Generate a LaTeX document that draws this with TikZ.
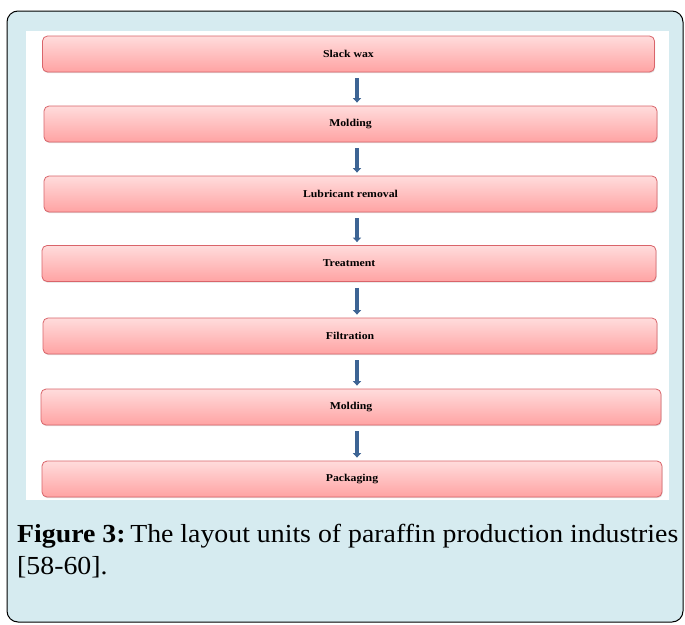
\documentclass[tikz,border=0pt]{standalone}
\usepackage{fontspec}
\setmainfont{Liberation Serif}
\usetikzlibrary{arrows.meta,shadows}
\definecolor{panelblue}{HTML}{D6EBF0}
\definecolor{boxtop}{HTML}{FFDCDC}
\definecolor{boxbot}{HTML}{FFA3A3}
\definecolor{boxline}{HTML}{D9646A}
\definecolor{arrowblue}{HTML}{3D6494}
\newcommand{\stagetext}[1]{\scalebox{1.12}[1]{#1}}
\tikzset{
  stage/.style={draw=boxline, line width=0.8pt, rounded corners=5pt,
    top color=boxtop, bottom color=boxbot, minimum height=36pt,
    inner sep=0pt, font=\fontsize{10.5}{12}\selectfont\bfseries,
    drop shadow={shadow xshift=0.6pt, shadow yshift=-1.2pt, opacity=0.25}},
  flow/.style={draw=arrowblue, line width=3.6pt,
    -{Triangle[width=8pt,length=4.5pt]}},
  caption/.style={anchor=base west, inner sep=0pt, font=\fontsize{26}{30}\selectfont},
}
\begin{document}
\begin{tikzpicture}[x=1pt,y=-1pt]
\useasboundingbox (0,0) rectangle (685,624);
% outer frame and white drawing area
\draw[fill=panelblue, line width=1pt, rounded corners=11pt] (7,11) rectangle (683,622);
\fill[white] (26,31) rectangle (669,500);
% process stages
\node[stage, minimum width=612pt] (s1) at (348.5,54)  {\stagetext{Slack wax}};
\node[stage, minimum width=613pt] (s2) at (350.5,124) {\stagetext{Molding}};
\node[stage, minimum width=613pt] (s3) at (350.5,194) {\stagetext{Lubricant removal}};
\node[stage, minimum width=614pt] (s4) at (349,263.5) {\stagetext{Treatment}};
\node[stage, minimum width=614pt] (s5) at (350,336)  {\stagetext{Filtration}};
\node[stage, minimum width=620pt] (s6) at (351,407)  {\stagetext{Molding}};
\node[stage, minimum width=620pt] (s7) at (352,479)  {\stagetext{Packaging}};
% connecting arrows
\foreach \a/\b in {s1/s2,s2/s3,s3/s4,s4/s5,s5/s6,s6/s7}{
  \draw[flow] ([yshift=-6pt]\a.south -| 357,0) -- ([yshift=3pt]\b.north -| 357,0);
}
% caption
\node[caption] (cap1) at (17,542)
  {\scalebox{1.07}[1]{\textbf{Figure 3:}\,The layout units of paraffin production industries}};
\node[caption] (cap2) at (17,574)
  {\scalebox{1.07}[1]{[58-60].}};
\end{tikzpicture}
\end{document}
